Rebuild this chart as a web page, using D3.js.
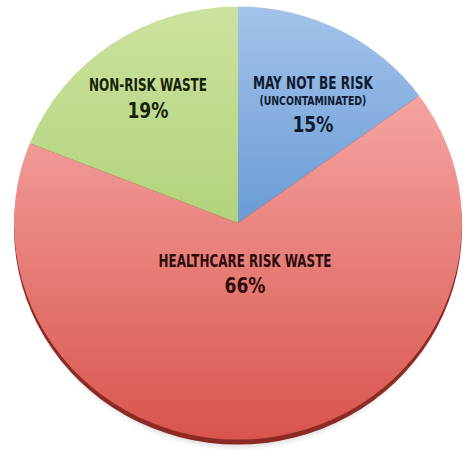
<!DOCTYPE html>
<html>
<head>
<meta charset="utf-8">
<script src="https://cdn.jsdelivr.net/npm/d3@7"></script>
<style>
  body { margin: 0; background: #fff; }
  text { font-family: "Liberation Sans Narrow", "DejaVu Sans Condensed", "Liberation Sans", sans-serif; font-weight: bold; }
</style>
</head>
<body>
<div class="chart"></div>
<script>
var svgWidth = 473;
var svgHeight = 457;

// chart data
var categories = ["MAY NOT BE RISK", "HEALTHCARE RISK WASTE", "NON-RISK WASTE"];
var subLabels = ["(UNCONTAMINATED)", "", ""];
var values = [15, 66, 19];

var colorTop = ["#a6c4ea", "#f6a8a5", "#cde3a0"];
var colorBottom = ["#6a9cd6", "#d9544d", "#b2d37c"];
var textColor = ["#101a30", "#2e0c0c", "#18210c"];

var cx = 238, cy = 223, radius = 224, sy = 0.967;

var svg = d3.select(".chart")
  .append("svg")
  .attr("width", svgWidth)
  .attr("height", svgHeight);

var defs = svg.append("defs");

// vertical gradient per slice
values.forEach(function (v, i) {
  var grad = defs.append("linearGradient")
    .attr("id", "grad" + i)
    .attr("gradientUnits", "userSpaceOnUse")
    .attr("x1", 0).attr("x2", 0)
    .attr("y1", i == 1 ? 80 : 0)
    .attr("y2", i == 1 ? 440 : 220);
  grad.append("stop").attr("offset", "0%").attr("stop-color", colorTop[i]);
  grad.append("stop").attr("offset", "100%").attr("stop-color", colorBottom[i]);
});

var blur = defs.append("filter").attr("id", "soft")
  .attr("x", "-10%").attr("y", "-10%").attr("width", "120%").attr("height", "120%");
blur.append("feGaussianBlur").attr("stdDeviation", 2.5);

var pie = d3.pie().sort(null).value(d => d);
var arcs = pie(values);

var arc = d3.arc().innerRadius(0).outerRadius(radius);

// soft shadow + dark bottom rim
svg.append("ellipse")
  .attr("cx", cx).attr("cy", cy + 8)
  .attr("rx", radius - 4).attr("ry", radius * sy)
  .attr("fill", "#000")
  .attr("opacity", 0.12)
  .attr("filter", "url(#soft)");

svg.append("g")
  .attr("transform", `translate(${cx}, ${cy + 5}) scale(1, ${sy})`)
  .selectAll("path")
  .data(arcs)
  .enter()
  .append("path")
  .attr("d", arc)
  .attr("fill", "#8e2a24");

var pieGroup = svg.append("g")
  .attr("transform", `translate(${cx}, ${cy}) scale(1, ${sy})`);

pieGroup.selectAll("path")
  .data(arcs)
  .enter()
  .append("path")
  .attr("d", arc)
  .attr("fill", (d, i) => `url(#grad${i})`);

// gradients are in user space of the scaled group; reset them to page space
defs.selectAll("linearGradient")
  .attr("gradientTransform", `scale(1, ${1 / sy}) translate(0, ${-cy})`);

// label placement
var labelR = [136, 56, 155];
var labelTurn = [0.112, 0, -0.023];
var labelWidth = [120, 173, 118];

var labels = svg.append("g");
arcs.forEach(function (d, i) {
  var a = (d.startAngle + d.endAngle) / 2 + labelTurn[i];
  var x = cx + labelR[i] * Math.sin(a);
  var y = cy - labelR[i] * Math.cos(a) * sy;
  var g = labels.append("g").attr("transform", `translate(${x}, ${y})`);
  var pct = values[i] + "%";
  var lineY = subLabels[i] ? -24.5 : -10;

  g.append("text")
    .attr("text-anchor", "middle")
    .attr("y", lineY)
    .attr("font-size", subLabels[i] ? "17.5px" : "18.5px")
    .attr("textLength", labelWidth[i])
    .attr("lengthAdjust", "spacingAndGlyphs")
    .attr("fill", textColor[i])
    .text(categories[i]);

  if (subLabels[i]) {
    g.append("text")
      .attr("text-anchor", "middle")
      .attr("y", lineY + 16)
      .attr("font-size", "12.5px")
      .attr("textLength", 107)
      .attr("lengthAdjust", "spacingAndGlyphs")
      .attr("fill", textColor[i])
      .text(subLabels[i]);
  }

  g.append("text")
    .attr("text-anchor", "middle")
    .attr("y", subLabels[i] ? lineY + 43.5 : lineY + 26.5)
    .attr("font-size", "22px")
    .attr("textLength", 41)
    .attr("lengthAdjust", "spacingAndGlyphs")
    .attr("fill", textColor[i])
    .text(pct);
});
</script>
</body>
</html>
